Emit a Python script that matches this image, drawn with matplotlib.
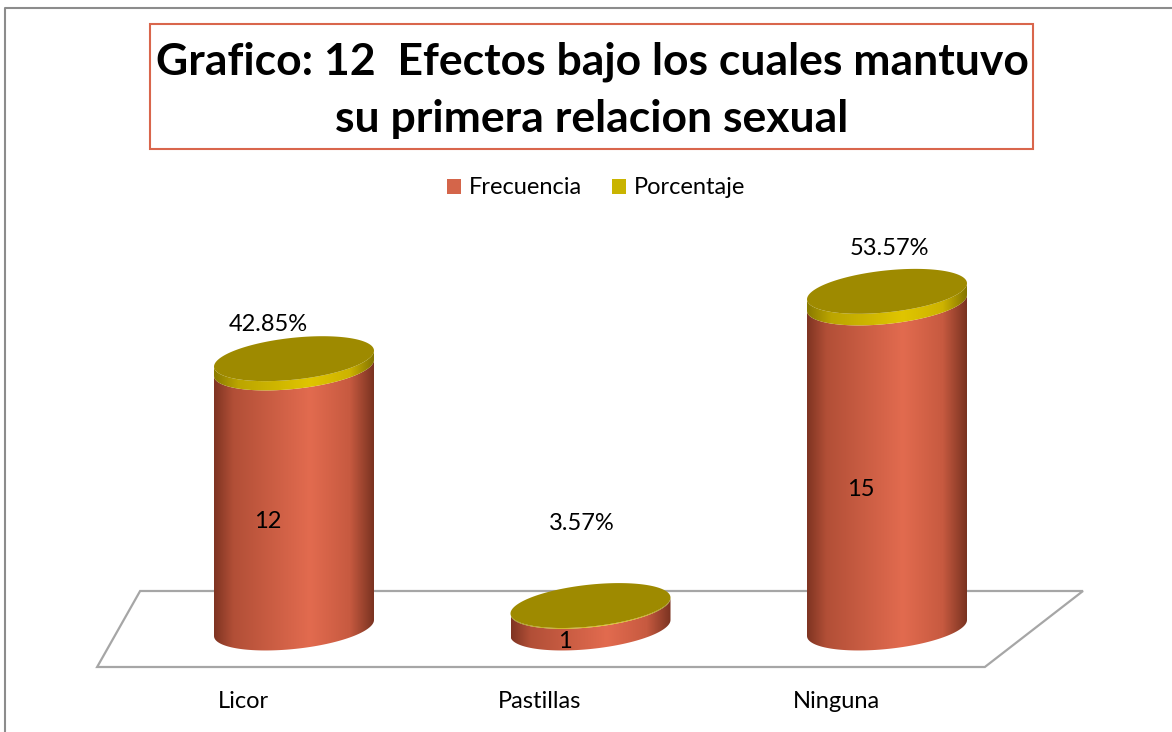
import numpy as np
import matplotlib.pyplot as plt
from matplotlib.patches import Polygon, Rectangle, Patch
from matplotlib.colors import LinearSegmentedColormap
from matplotlib.lines import Line2D

# data
categories = ['Licor', 'Pastillas', 'Ninguna']
frecuencia = [12, 1, 15]
porcentaje = [0.4285, 0.0357, 0.5357]
porcentaje_labels = ['42.85%', '3.57%', '53.57%']
series = ['Frecuencia', 'Porcentaje']

plt.rcParams['font.family'] = ['Lato', 'DejaVu Sans']

W, H = 1172, 732
fig = plt.figure(figsize=(W / 100, H / 100), dpi=100)
ax = fig.add_axes([0, 0, 1, 1])

# layout in pixels: first category at x=294, spacing 296.5; value 0 at y=628, 21.67 px per unit
x0_px, dx_px = 294, 296.5
y0_px, dy_px = 628, 21.67
ax.set_xlim(-x0_px / dx_px, (W - x0_px) / dx_px)
ax.set_ylim(-(H - y0_px) / dy_px, y0_px / dy_px)
ax.axis('off')

a = 80 / dx_px          # cylinder half width
b = 21 / dy_px          # ellipse half height
s = (8 / dy_px) / a     # tilt (right side higher)

red_cmap = LinearSegmentedColormap.from_list(
    'red', [(0, '#7f3422'), (0.12, '#b24f37'), (0.6, '#e26b4f'), (0.85, '#c75a40'), (1, '#7a3321')])
yel_cmap = LinearSegmentedColormap.from_list(
    'yel', [(0, '#8a7a00'), (0.15, '#bba500'), (0.6, '#e0c500'), (0.85, '#cdb300'), (1, '#857500')])
cap_color = '#9e8a00'


def arc(cx, cy, t):
    return np.column_stack([cx + a * np.cos(t), cy + b * np.sin(t) + s * a * np.cos(t)])


def side(cx, y0, y1, cmap):
    t = np.linspace(np.pi, 2 * np.pi, 80)
    pts = np.vstack([arc(cx, y0, t), arc(cx, y1, t[::-1])])
    poly = Polygon(pts, closed=True, fill=False, lw=0, zorder=3)
    ax.add_patch(poly)
    grad = np.linspace(0, 1, 256)[None, :]
    im = ax.imshow(grad, cmap=cmap, aspect='auto', interpolation='bilinear',
                   extent=[cx - a, cx + a, y0 - b - s * a, y1 + b + s * a], zorder=3)
    im.set_clip_path(poly)


# floor
front_l, front_r = -0.664, 2.33
shift = 0.145
fy0, fy1 = -39 / dy_px, 37 / dy_px
floor = Polygon([[front_l, fy0], [front_l + shift, fy1], [front_r + 0.331, fy1], [front_r, fy0]],
                closed=True, facecolor='white', edgecolor='#a6a6a6', lw=1.6, zorder=1)
ax.add_patch(floor)

for i, (f, p) in enumerate(zip(frecuencia, porcentaje)):
    side(i, 0, f, red_cmap)
    side(i, f, f + p, yel_cmap)
    t = np.linspace(0, 2 * np.pi, 160)
    ax.add_patch(Polygon(arc(i, f + p, t), closed=True, facecolor=cap_color,
                         edgecolor='none', zorder=4))
    ax.text(i - 26 / dx_px, f / 2 - 24 / dy_px, str(f), ha='center', va='center',
            fontsize=17, color='black', zorder=5)

# percentage labels (offsets in px as placed in the original)
pct_offsets_px = [(-26, 34), (-9, 82), (2, 43)]
for i, (f, p) in enumerate(zip(frecuencia, porcentaje)):
    ox, oy = pct_offsets_px[i]
    ax.text(i + ox / dx_px, f + p + oy / dy_px, porcentaje_labels[i], ha='center', va='center',
            fontsize=17, color='black', zorder=5)

# category labels
for i, c in enumerate(categories):
    ax.text(i - 51 / dx_px, -74 / dy_px, c, ha='center', va='center', fontsize=17, color='black')

# outer chart border
fig.add_artist(Line2D([5 / W, 5 / W, 1], [0, 1 - 8 / H, 1 - 8 / H], transform=fig.transFigure,
                      color='#8c8c8c', lw=1.5))

# title box
fig.add_artist(Rectangle((150 / W, 1 - 149 / H), 883 / W, 125 / H, transform=fig.transFigure,
                         facecolor='white', edgecolor='#d9664c', lw=1.5))
fig.text(592 / W, 1 - 62 / H, 'Grafico: 12  Efectos bajo los cuales mantuvo', ha='center',
         va='center', fontsize=32, fontweight='bold')
fig.text(592 / W, 1 - 119 / H, 'su primera relacion sexual', ha='center', va='center',
         fontsize=32, fontweight='bold')

# legend
handles = [Patch(facecolor='#d4654a', label=series[0]), Patch(facecolor='#c9b400', label=series[1])]
fig.legend(handles=handles, loc='center', bbox_to_anchor=(596 / W, 1 - 188 / H), ncol=2,
           frameon=False, fontsize=17, handlelength=0.6, handleheight=0.6, handletextpad=0.3,
           columnspacing=1.3)

fig.savefig('out.png', dpi=100)
